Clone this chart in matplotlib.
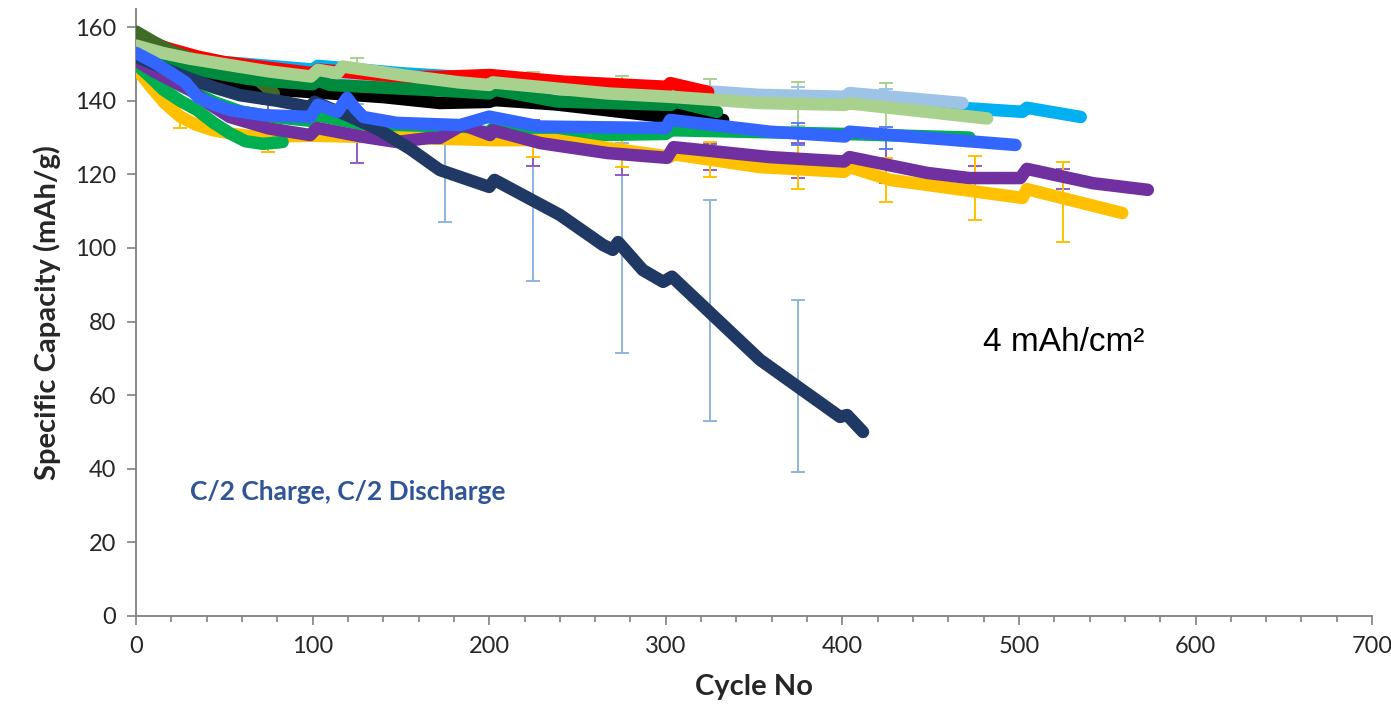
import numpy as np
import matplotlib.pyplot as plt

# cycle / capacity knots, one pair of lists per cell
cyan_x = [0, 10, 20, 35, 50, 75, 100, 103, 150, 200, 250, 300, 350, 400, 450, 470, 502, 504.5, 535]
cyan_y = [156, 154.5, 153, 151.5, 150.5, 149.5, 148.5, 149.5, 147.5, 146, 144.5, 143, 141.5, 140, 139, 138, 137, 138.1, 135.6]

steel_x = [0, 15, 30, 50, 100, 200, 300, 329, 353, 401.5, 404, 468]
steel_y = [155, 153, 151.5, 150, 147, 145, 143, 142.4, 141.6, 141.1, 142.1, 139.4]

red_x = [0, 10, 20, 35, 50, 75, 100, 103, 150, 172, 200.5, 242, 300.7, 302.5, 324]
red_y = [157.5, 155.5, 154, 152, 150.5, 149, 147.5, 148.5, 146.5, 146.5, 147, 145.2, 143.8, 144.8, 142.4]

greenb_x = [0, 15, 30, 45, 60, 80, 100, 103, 140, 200, 203, 238, 300, 303, 400, 472]
greenb_y = [151, 146.5, 143, 139.5, 137, 135.5, 134.5, 136, 132.5, 131.5, 133, 130.5, 131, 132, 131, 130]

black_x = [0, 10, 21, 40, 59, 80, 101, 140, 172, 200, 203, 238, 300, 302.5, 332.5]
black_y = [153.5, 152, 150.3, 146.5, 144, 143, 142.3, 141, 139.4, 139.7, 140.2, 139, 135.6, 137, 134.8]

olive_x = [0, 10, 20, 40, 60, 70, 78]
olive_y = [158.8, 156, 153.5, 150, 147, 145.3, 142]

dkgreen_x = [0, 15, 30, 45, 63, 80, 100, 103, 110, 183, 200, 203, 238.5, 303, 305, 329]
dkgreen_y = [152.5, 150.5, 149, 147.5, 146, 145.2, 144.5, 145.5, 144.3, 142.5, 142, 143, 139.8, 138.9, 139.8, 137]

ltgreen_x = [0, 15, 30, 53, 75, 99, 103, 114, 117, 150, 183, 200, 202, 267, 302, 353, 401.5, 404, 482]
ltgreen_y = [155, 153, 151.5, 149.7, 148, 146.6, 148.4, 147.5, 149.3, 147, 145, 144.3, 145, 142, 141.1, 139.4, 138.9, 139.3, 135.2]

yellow_x = [0, 8, 16, 25, 34, 43.7, 55, 68.5, 99, 150, 202, 238, 267, 302.5, 304, 353, 401, 404, 427, 502, 504.5, 558.5]
yellow_y = [148.9, 144, 139.5, 135.7, 133.5, 132, 131, 130.2, 130.5, 130, 129.3, 129.3, 127.2, 124.8, 125.5, 122, 120.7, 122, 118.5, 113.6, 116, 109.5]

greena_x = [0, 8, 15.5, 25, 34.5, 44, 53, 62, 72, 83]
greena_y = [150, 146.5, 143, 140, 137.5, 134, 131.2, 129, 128.3, 128.8]

purple_x = [0, 10, 20, 30.6, 42, 53, 75, 98.6, 102.5, 128.7, 147.6, 166, 172, 185, 200.5, 202, 229, 267, 300.7,
            304.4, 359, 401, 404, 448, 472, 500.8, 504.5, 542, 573]
purple_y = [151, 148, 145.5, 143, 139, 135.6, 132.5, 130.7, 132.6, 130.2, 128.8, 129.9, 129.9, 133.5, 130.7, 132, 128.5, 125.8, 124.5,
            127.4, 124.7, 123.5, 124.7, 120.4, 119, 119, 121.5, 117.6, 115.8]

navy_x = [0, 10, 20, 30.6, 45, 59, 80, 98.5, 101, 120, 138, 155, 172, 200, 203, 240, 264.5, 270, 273, 287, 298.5,
          303.5, 353.4, 398.7, 402.7, 411.7]
navy_y = [152, 150, 148, 146, 143.5, 141.5, 140, 138.3, 139.7, 136, 132, 127, 121.2, 116.6, 118.5, 109, 100.8, 99.5, 101.6, 94, 90.8,
          92.2, 69.6, 54.1, 54.6, 50]

blue_x = [0, 10, 20, 28, 35, 44, 53, 72, 98.6, 103, 114, 119.5, 124, 128.7, 147.6, 183.5, 200, 229, 300, 302.5, 359,
          401.5, 404, 498]
blue_y = [153, 150.5, 147.5, 145, 141, 139, 137.5, 136.1, 135.6, 138.9, 137, 140.8, 138, 135.6, 134, 133.4, 135.7, 133, 132.6, 134.8, 131.6,
          130.3, 131.6, 128]

# error bars (cycle, mean, +/-)
navy_ex = [125, 175, 225, 275, 325, 375]
navy_ey = [134, 120.5, 112.9, 100, 83, 62.5]
navy_ee = [5, 13.5, 22, 28.5, 30, 23.5]

purple_ex = [75, 125, 225, 275, 325, 375, 425, 475, 525]
purple_ey = [132.5, 130.2, 128.5, 125.6, 124.7, 123.8, 122.3, 119, 118.7]
purple_ee = [6.5, 7, 6.2, 5.8, 3.5, 4.8, 4.7, 3.3, 2.8]

yellow_ex = [25, 75, 225, 275, 325, 375, 425, 475, 525]
yellow_ey = [135.7, 130, 129, 127, 124, 122, 118.5, 116.3, 112.5]
yellow_ee = [3, 4, 4.3, 5, 4.7, 6, 6, 8.7, 11]

ltgreen_ex = [125, 225, 275, 325, 375, 425]
ltgreen_ey = [147.5, 143.3, 142, 140.5, 139.2, 138.3]
ltgreen_ee = [4, 4.5, 4.7, 5.5, 6, 6.5]

steel_ex = [375, 425]
steel_ey = [140.8, 140.3]
steel_ee = [3, 3]

blue_ex = [375, 425]
blue_ey = [131, 130]
blue_ee = [3, 3]

plt.rcParams['font.family'] = ['Lato', 'DejaVu Sans']

fig = plt.figure(figsize=(13.91, 7.15), dpi=100)
ax = fig.add_axes([0.0978, 0.1385, 0.8886, 0.8492])

bars = [
    (navy_ex, navy_ey, navy_ee, '#8fb4de'),
    (purple_ex, purple_ey, purple_ee, '#8e5cc0'),
    (yellow_ex, yellow_ey, yellow_ee, '#ffc000'),
    (ltgreen_ex, ltgreen_ey, ltgreen_ee, '#a9d18e'),
    (steel_ex, steel_ey, steel_ee, '#9dc3e6'),
    (blue_ex, blue_ey, blue_ee, '#5a80f0'),
]
for ex, ey, ee, c in bars:
    ax.errorbar(ex, ey, yerr=ee, fmt='none', ecolor=c, elinewidth=1.4, capsize=5, capthick=1.4, zorder=1)

# drawing order: first in list lies underneath
curves = [
    (cyan_x, cyan_y, '#00b0f0'),
    (steel_x, steel_y, '#9dc3e6'),
    (red_x, red_y, '#ff0000'),
    (greenb_x, greenb_y, '#00b050'),
    (black_x, black_y, '#000000'),
    (olive_x, olive_y, '#3f6b26'),
    (dkgreen_x, dkgreen_y, '#008a3e'),
    (ltgreen_x, ltgreen_y, '#a9d18e'),
    (yellow_x, yellow_y, '#ffc000'),
    (greena_x, greena_y, '#00b050'),
    (purple_x, purple_y, '#7030a0'),
    (navy_x, navy_y, '#203864'),
    (blue_x, blue_y, '#3366ff'),
]
for i, (x, y, c) in enumerate(curves):
    ax.plot(x, y, color=c, lw=9, solid_capstyle='round', solid_joinstyle='round', zorder=2 + i)

ax.set_xlim(0, 700)
ax.set_ylim(0, 165)
ax.set_xticks(np.arange(0, 701, 100))
ax.set_xticks(np.arange(0, 701, 20), minor=True)
ax.set_yticks(np.arange(0, 161, 20))

for s in ['top', 'right']:
    ax.spines[s].set_visible(False)
for s in ['left', 'bottom']:
    ax.spines[s].set_color('#808080')
    ax.spines[s].set_linewidth(1.3)

ax.tick_params(axis='both', which='major', direction='out', color='#808080', width=1.2,
               labelsize=17, labelcolor='#262626')
ax.tick_params(axis='x', which='major', length=6.5, pad=8)
ax.tick_params(axis='x', which='minor', length=4.5, width=1.2, color='#808080')
ax.tick_params(axis='y', which='major', length=6.5, pad=8)

ax.set_xlabel('Cycle No', fontsize=21, fontweight='bold', color='#262626', labelpad=12)
ax.set_ylabel('Specific Capacity (mAh/g)', fontsize=21, fontweight='bold', color='#262626', labelpad=10)

ax.text(30.6, 33.7, 'C/2 Charge, C/2 Discharge', fontsize=19, fontweight='bold',
        color='#2f5597', va='center', ha='left')
ax.text(479.7, 74.2, '4 mAh/cm²', fontsize=24, family=['Liberation Sans', 'DejaVu Sans'],
        color='#000000', va='center', ha='left')

fig.savefig('out.png', dpi=100)
